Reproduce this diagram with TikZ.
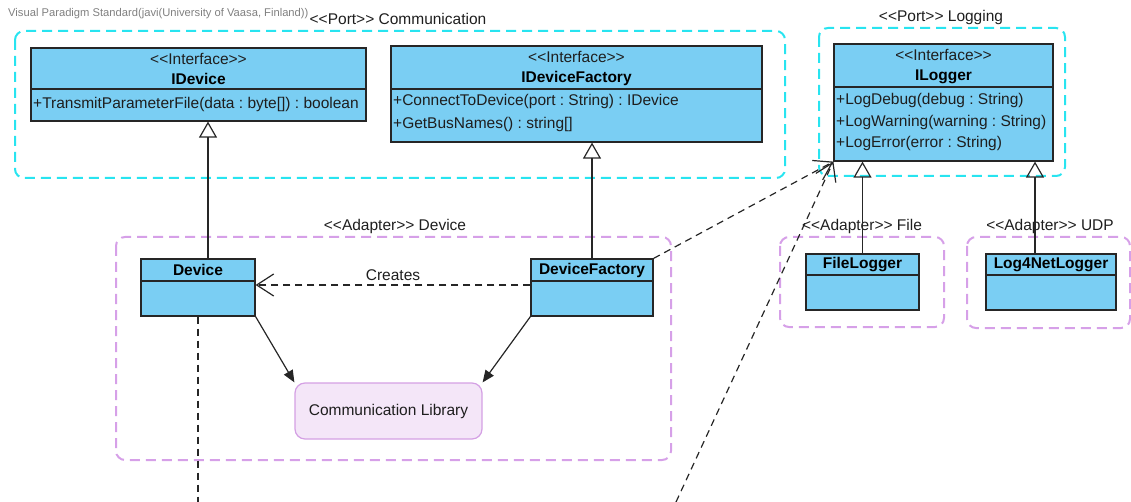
\documentclass[tikz,border=0pt]{standalone}
\usepackage{fontspec}
\setmainfont{Liberation Sans}[Ligatures=TeXOff]
\usepackage{tikz}
\usetikzlibrary{arrows.meta,fit}

\definecolor{clsblue}{RGB}{122,206,243}
\definecolor{portcyan}{RGB}{40,228,240}
\definecolor{adaptlilac}{RGB}{214,160,232}
\definecolor{libfill}{RGB}{244,230,248}
\definecolor{libline}{RGB}{212,160,228}
\definecolor{txtgray}{RGB}{30,30,30}

\tikzset{
  cls/.style={draw=black!85, fill=clsblue, line width=1.2pt, inner sep=0pt},
  port/.style={draw=portcyan, dash pattern=on 10pt off 6pt, line width=2pt, rounded corners=9pt},
  adapter/.style={draw=adaptlilac, dash pattern=on 10pt off 6pt, line width=2pt, rounded corners=9pt},
  txt/.style={text=txtgray, font=\fontsize{15.5}{18}\selectfont, inner sep=0pt},
  clsname/.style={text=black, font=\fontsize{15.5}{18}\selectfont\bfseries, inner sep=0pt},
  lib/.style={draw=libline, fill=libfill, rounded corners=10pt, line width=1.2pt, txt},
  realize/.style={-{Triangle[open,length=16pt,width=18pt]}, line width=1.2pt, draw=black!85},
  depend/.style={-{Straight Barb[length=17pt,width=22pt]}, dash pattern=on 7pt off 5pt, line width=1.2pt, draw=black!85},
  assoc/.style={-{Triangle[length=12pt,width=10pt]}, line width=1.2pt, draw=black!85}
}

\begin{document}
\frenchspacing
\begin{tikzpicture}[x=1pt, y=-1pt]
    \useasboundingbox (0,0) rectangle (1131,502);

    \node[anchor=west, text=gray, font=\fontsize{11.2}{13}\selectfont, inner sep=0pt] (wmark) at (8,14) {Visual Paradigm Standard(javi(University of Vaasa, Finland))};

    \draw[port] (15,31) rectangle (785,178);
    \node[txt] (portcomm) at (398,19) {<<Port>> Communication};
    \draw[port] (819,28) rectangle (1065,176);
    \node[txt] (portlog) at (941,17) {<<Port>> Logging};

    \node[cls, fit={(31,48) (366,121)}] (idevice) {};
    \draw[line width=1.2pt, black!85] (31,89) -- (366,89);
    \node[txt] (idevicest) at (198.5,59) {<<Interface>>};
    \node[clsname] (idevicename) at (198.5,79) {IDevice};
    \node[txt, anchor=west] (idevicem1) at (33,104) {+TransmitParameterFile(data : byte[]) : boolean};

    \node[cls, fit={(391,46) (762,142)}] (idfactory) {};
    \draw[line width=1.2pt, black!85] (391,89) -- (762,89);
    \node[txt] (idfactoryst) at (576.5,57) {<<Interface>>};
    \node[clsname] (idfactoryname) at (576.5,78) {IDeviceFactory};
    \node[txt, anchor=west] (idfactorym1) at (393,101) {+ConnectToDevice(port : String) : IDevice};
    \node[txt, anchor=west] (idfactorym2) at (393,124) {+GetBusNames() : string[]};

    \node[cls, fit={(834,44) (1053,161)}] (ilogger) {};
    \draw[line width=1.2pt, black!85] (834,87) -- (1053,87);
    \node[txt] (iloggerst) at (943.5,55) {<<Interface>>};
    \node[clsname] (iloggername) at (943.5,77) {ILogger};
    \node[txt, anchor=west] (iloggerm1) at (836,100) {+LogDebug(debug : String)};
    \node[txt, anchor=west] (iloggerm2) at (836,122) {+LogWarning(warning : String)};
    \node[txt, anchor=west] (iloggerm3) at (836,143) {+LogError(error : String)};

    \draw[adapter] (116,237) rectangle (671,460);
    \node[txt] (adaptdev) at (395,226) {<<Adapter>> Device};

    \node[cls, fit={(141,259) (255,316)}] (device) {};
    \draw[line width=1.2pt, black!85] (141,281) -- (255,281);
    \node[clsname] (devicename) at (198,270) {Device};

    \node[cls, fit={(531,259) (653,316)}] (dfactory) {};
    \draw[line width=1.2pt, black!85] (531,281) -- (653,281);
    \node[clsname] (dfactoryname) at (592,270) {DeviceFactory};

    \node[lib, minimum width=187pt, minimum height=56pt] (commlib) at (388.5,411) {Communication Library};

    \draw[adapter] (780,237) rectangle (944,327);
    \node[txt] (adaptfile) at (862,226) {<<Adapter>> File};
    \node[cls, fit={(806,254) (919,310)}] (filelog) {};
    \draw[line width=1.2pt, black!85] (806,275) -- (919,275);
    \node[clsname] (filelogname) at (862.5,265) {FileLogger};

    \draw[adapter] (967,237) rectangle (1130,328);
    \node[txt] (adaptudp) at (1050,226) {<<Adapter>> UDP};
    \node[cls, fit={(986,254) (1116,310)}] (netlog) {};
    \draw[line width=1.2pt, black!85] (986,275) -- (1116,275);
    \node[clsname] (netlogname) at (1051,265) {Log4NetLogger};

    \draw[realize] ([xshift=10pt]device.north) -- ([xshift=10pt]device.north |- idevice.south);
    \draw[realize] (dfactory.north) -- (dfactory.north |- idfactory.south);
    \draw[realize] (filelog.north) -- (filelog.north |- ilogger.south);
    \draw[realize] ([xshift=-16pt]netlog.north) -- ([xshift=-16pt]netlog.north |- ilogger.south);

    \draw[depend] (dfactory.west |- 0,285) -- (device.east |- 0,285) node[txt, midway, above=4pt] (creates) {Creates};
    \draw[assoc] (device.south east) -- (commlib.north west);
    \draw[assoc] (dfactory.south west) -- (commlib.north east);

    \coordinate (devcut) at (198,502);
    \coordinate (libcut) at (676,502);
    \draw[line width=1.2pt, black!85, dash pattern=on 7pt off 5pt] (device.south) -- (devcut);
    \draw[depend] (dfactory.north east) -- (ilogger.south west);
    \draw[depend] (libcut) -- (ilogger.south west);
\end{tikzpicture}
\end{document}
